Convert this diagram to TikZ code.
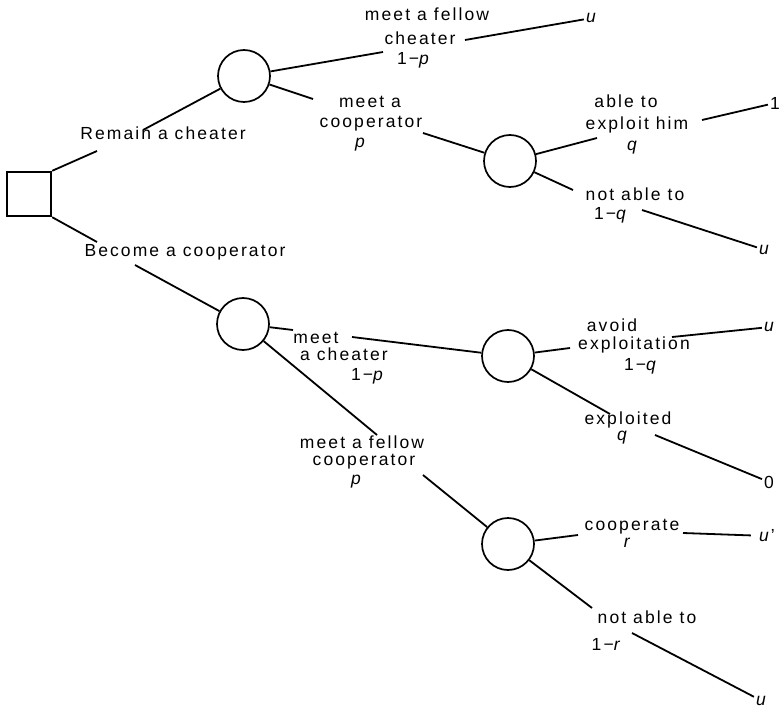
\documentclass[tikz,border=0pt]{standalone}
\usepackage{fontspec}
\setmainfont[LetterSpace=12]{Liberation Sans}
\newcommand{\mi}[1]{\textit{#1}}
\begin{document}
\begin{tikzpicture}[x=1pt,y=-1pt,
  chance/.style={circle, draw, line width=1.7pt, minimum size=52pt, inner sep=0pt},
  decision/.style={rectangle, draw, line width=2.4pt, minimum size=44pt, inner sep=0pt},
  lbl/.style={inner sep=0pt, anchor=mid, font=\fontsize{17.5}{20}\selectfont},
  leaf/.style={inner sep=2pt, font=\fontsize{17.5}{20}\selectfont},
  branch/.style={line width=1.8pt}]
\useasboundingbox (0,0) rectangle (781,711);

% decision and chance nodes
\node[decision] (sq) at (29,194) {};
\node[chance] (c1) at (244,76) {};
\node[chance] (c2) at (243,324) {};
\node[chance] (c3) at (510,161) {};
\node[chance] (c4) at (508,356) {};
\node[chance] (c5) at (508,544) {};

% leaves
\node[leaf] (L1) at (592,18) {\mi{u}};
\node[leaf] (L2) at (775,103) {1};
\node[leaf] (L3) at (765,250) {\mi{u}};
\node[leaf] (L4) at (770,327) {\mi{u}};
\node[leaf] (L5) at (769,482) {0};
\node[leaf] (L6) at (767,536) {\mi{u}'};
\node[leaf] (L7) at (762,701) {\mi{u}};

% segment break points
\coordinate (a1) at (97,151);  \coordinate (a2) at (143,130);
\coordinate (b1) at (97,242);  \coordinate (b2) at (135,265);
\coordinate (d1) at (383,52);  \coordinate (d2) at (465,40);
\coordinate (e1) at (313,99);  \coordinate (e2) at (423,133);
\coordinate (f1) at (597,138); \coordinate (f2) at (702,120);
\coordinate (g1) at (573,190); \coordinate (g2) at (642,210);
\coordinate (h1) at (293,330); \coordinate (h2) at (352,337);
\coordinate (i1) at (570,348); \coordinate (i2) at (672,337);
\coordinate (j1) at (610,414); \coordinate (j2) at (655,435);
\coordinate (k1) at (377,435); \coordinate (k2) at (423,475);
\coordinate (l1) at (578,535); \coordinate (l2) at (683,533);
\coordinate (m1) at (592,608); \coordinate (m2) at (632,633);

% branches
\draw[branch] (sq.north east) -- (a1);  \draw[branch] (a2) -- (c1);
\draw[branch] (sq.south east) -- (b1);  \draw[branch] (b2) -- (c2);
\draw[branch] (c1) -- (d1);  \draw[branch] (d2) -- (L1);
\draw[branch] (c1) -- (e1);  \draw[branch] (e2) -- (c3);
\draw[branch] (c3) -- (f1);  \draw[branch] (f2) -- (L2);
\draw[branch] (c3) -- (g1);  \draw[branch] (g2) -- (L3);
\draw[branch] (c2) -- (h1);  \draw[branch] (h2) -- (c4);
\draw[branch] (c4) -- (i1);  \draw[branch] (i2) -- (L4);
\draw[branch] (c4) -- (j1);  \draw[branch] (j2) -- (L5);
\draw[branch] (c2) -- (k1);  \draw[branch] (k2) -- (c5);
\draw[branch] (c5) -- (l1);  \draw[branch, shorten >=6pt] (l2) -- (L6);
\draw[branch] (c5) -- (m1);  \draw[branch] (m2) -- (L7);

% labels
\node[lbl] (t1) at (163,137) {Remain a cheater};
\node[lbl] (t2) at (185,254) {Become a cooperator};
\node[lbl] (t3) at (427,18) {meet a fellow};
\node[lbl] (t4) at (420,42) {cheater};
\node[lbl] (t5) at (414,62) {1−\mi{p}};
\node[lbl] (t6) at (370,105) {meet a};
\node[lbl] (t7) at (371,125) {cooperator};
\node[lbl] (t8) at (361,145) {\mi{p}};
\node[lbl] (t9) at (626,105) {able to};
\node[lbl] (t10) at (637,127) {exploit him};
\node[lbl] (t11) at (633,148) {\mi{q}};
\node[lbl] (t12) at (635,198) {not able to};
\node[lbl] (t13) at (611,217) {1−\mi{q}};
\node[lbl] (t14) at (316,341) {meet};
\node[lbl] (t15) at (344,358) {a cheater};
\node[lbl] (t16) at (368,378) {1−\mi{p}};
\node[lbl] (t17) at (612,329) {avoid};
\node[lbl] (t18) at (634,347) {exploitation};
\node[lbl] (t19) at (641,368) {1−\mi{q}};
\node[lbl] (t20) at (628,422) {exploited};
\node[lbl] (t21) at (623,438) {\mi{q}};
\node[lbl] (t22) at (362,446) {meet a fellow};
\node[lbl] (t23) at (364,463) {cooperator};
\node[lbl] (t24) at (357,482) {\mi{p}};
\node[lbl] (t25) at (632,528) {cooperate};
\node[lbl] (t26) at (628,545) {\mi{r}};
\node[lbl] (t27) at (647,621) {not able to};
\node[lbl] (t28) at (607,648) {1−\mi{r}};
\end{tikzpicture}
\end{document}
